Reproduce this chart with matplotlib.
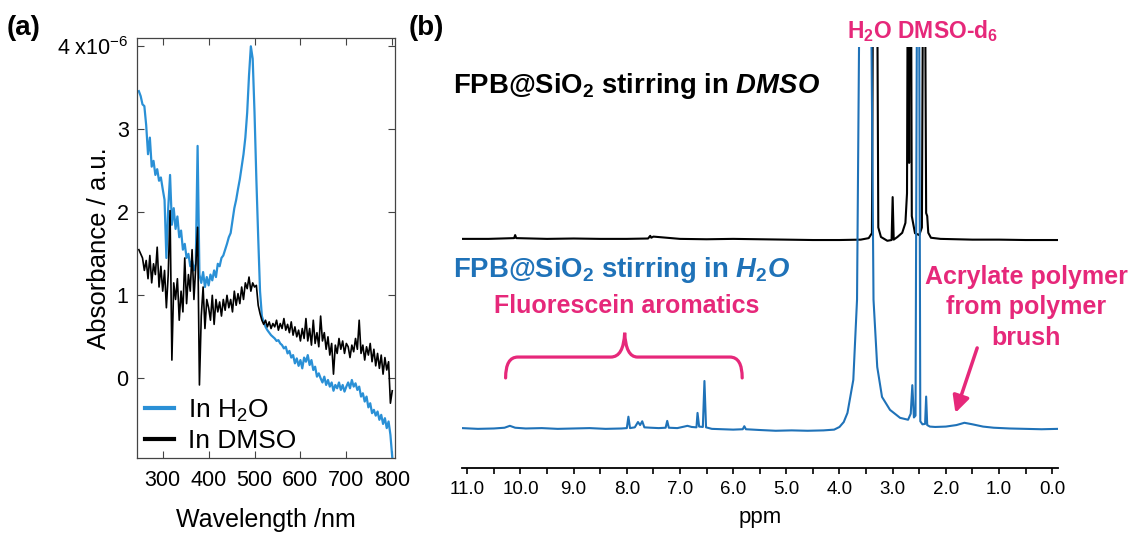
"""
Figura com dois painéis: (a) espectros UV-vis e (b) espectros de RMN 1H.
Salva em out.png.
"""

import numpy as np
import matplotlib
matplotlib.use("Agg")
import matplotlib.pyplot as plt
from matplotlib.path import Path
from matplotlib.patches import PathPatch

plt.rcParams["font.family"] = ["Liberation Sans", "DejaVu Sans"]
plt.rcParams["mathtext.fontset"] = "custom"
plt.rcParams["mathtext.rm"] = "Liberation Sans:bold"
plt.rcParams["mathtext.it"] = "Liberation Sans:italic:bold"
plt.rcParams["mathtext.bf"] = "Liberation Sans:bold"

# ---- (a) UV-vis: absorbância (x1e-6) a cada 4 nm, de 248 a 800 nm ----
comprimento = np.arange(248, 801, 4)
abs_h2o = [
    3.46, 3.40, 3.30, 3.28, 3.05, 2.70, 2.90, 2.55, 2.62, 2.45,
    2.52, 2.38, 2.42, 2.28, 2.15, 1.45, 2.05, 2.45, 1.85, 2.05,
    1.80, 1.95, 1.70, 1.78, 1.55, 1.62, 1.45, 1.50, 1.35, 1.42,
    1.30, 1.38, 2.80, 1.25, 1.15, 1.28, 1.10, 1.22, 1.12, 1.25,
    1.18, 1.30, 1.22, 1.38, 1.35, 1.45, 1.48, 1.55, 1.62, 1.70,
    1.75, 1.90, 2.05, 2.15, 2.28, 2.40, 2.55, 2.70, 2.90, 3.20,
    3.65, 4.00, 3.85, 3.20, 2.40, 1.70, 1.05, 0.75, 0.68, 0.62,
    0.58, 0.55, 0.52, 0.50, 0.48, 0.45, 0.46, 0.42, 0.40, 0.36,
    0.38, 0.30, 0.33, 0.25, 0.28, 0.18, 0.24, 0.15, 0.22, 0.12,
    0.25, 0.20, 0.28, 0.16, 0.22, 0.10, 0.14, 0.02, 0.06, 0.00,
    -0.05, 0.02, -0.08, -0.02, -0.10, -0.05, -0.15, -0.08, -0.12, -0.05,
    -0.14, -0.08, -0.16, -0.10, -0.05, -0.12, -0.02, -0.10, -0.06, -0.14,
    -0.10, -0.22, -0.18, -0.28, -0.22, -0.35, -0.30, -0.42, -0.38, -0.45,
    -0.40, -0.50, -0.44, -0.55, -0.48, -0.60, -0.52, -0.68, -0.95,
]
abs_dmso = [
    1.55, 1.50, 1.45, 1.30, 1.42, 1.20, 1.48, 1.15, 1.38, 1.25,
    1.58, 1.10, 1.35, 1.05, 1.30, 0.85, 1.25, 2.02, 0.22, 1.15,
    0.95, 1.20, 0.70, 1.05, 0.80, 1.45, 0.90, 1.25, 1.05, 1.55,
    0.95, 1.35, 1.82, -0.08, 0.75, 1.10, 0.60, 0.95, 0.85, 0.70,
    1.00, 0.65, 0.95, 0.80, 0.92, 0.75, 0.95, 0.82, 1.00, 0.85,
    0.95, 0.80, 1.05, 0.88, 1.02, 0.90, 1.10, 0.95, 1.15, 1.08,
    1.22, 1.05, 1.15, 1.10, 1.12, 0.88, 0.78, 0.70, 0.65, 0.70,
    0.62, 0.68, 0.60, 0.66, 0.62, 0.70, 0.58, 0.66, 0.60, 0.72,
    0.58, 0.65, 0.55, 0.68, 0.52, 0.62, 0.50, 0.58, 0.45, 0.60,
    0.48, 0.72, 0.45, 0.60, 0.40, 0.70, 0.42, 0.55, 0.38, 0.75,
    0.45, 0.55, 0.35, 0.50, 0.28, 0.42, 0.05, 0.40, 0.30, 0.48,
    0.35, 0.45, 0.30, 0.42, 0.38, 0.25, 0.40, 0.32, 0.48, 0.35,
    0.70, 0.30, 0.40, 0.22, 0.38, 0.28, 0.42, 0.20, 0.35, 0.15,
    0.30, 0.12, 0.28, 0.05, 0.25, 0.10, 0.20, -0.30, -0.15,
]

# ---- (b) RMN: deslocamento (ppm) e intensidade relativa à linha de base ----
ppm_h2o = [
    11.10, 10.80, 10.50, 10.30, 10.20, 10.10, 9.90, 9.60, 9.30, 9.00,
    8.70, 8.40, 8.10, 8.00, 7.97, 7.94, 7.85, 7.79, 7.75, 7.71,
    7.67, 7.55, 7.40, 7.27, 7.24, 7.21, 7.05, 6.92, 6.86, 6.78,
    6.69, 6.67, 6.64, 6.57, 6.54, 6.51, 6.40, 6.20, 6.00, 5.82,
    5.79, 5.76, 5.50, 5.20, 4.90, 4.60, 4.30, 4.10, 4.00, 3.92,
    3.85, 3.74, 3.67, 3.63, 3.52, 3.40, 3.36, 3.29, 3.20, 3.05,
    2.86, 2.71, 2.66, 2.63, 2.60, 2.57, 2.545, 2.52, 2.50, 2.48,
    2.44, 2.39, 2.37, 2.35, 2.30, 2.20, 2.00, 1.80, 1.65, 1.50,
    1.30, 1.10, 0.80, 0.50, 0.20, -0.11,
]
int_h2o = [
    0.02, 0.00, 0.01, 0.03, 0.08, 0.03, 0.01, 0.02, 0.00, 0.01,
    0.02, 0.00, 0.01, 0.02, 0.32, 0.02, 0.04, 0.18, 0.10, 0.20,
    0.04, 0.03, 0.02, 0.03, 0.21, 0.03, 0.02, 0.06, 0.08, 0.05,
    0.04, 0.42, 0.06, 0.05, 1.26, 0.04, 0.00, -0.01, -0.02, -0.01,
    0.07, -0.01, -0.03, -0.05, -0.04, -0.05, -0.04, -0.02, 0.05, 0.18,
    0.42, 1.29, 3.40, 10.5, 14.0, 10.5, 3.40, 1.63, 0.84, 0.50,
    0.29, 0.24, 0.40, 1.15, 0.30, 0.35, 10.5, 14.0, 10.5, 0.20,
    0.12, 0.13, 0.85, 0.10, 0.06, 0.05, 0.06, 0.10, 0.16, 0.12,
    0.06, 0.03, 0.01, 0.00, -0.01, 0.00,
]
ppm_dmso = [
    11.10, 10.60, 10.12, 10.10, 10.08, 9.50, 9.00, 8.50, 8.00, 7.60,
    7.56, 7.54, 7.50, 7.00, 6.50, 6.00, 5.50, 5.00, 4.50, 4.00,
    3.60, 3.45, 3.39, 3.36, 3.33, 3.30, 3.27, 3.22, 3.10, 3.02,
    3.00, 2.98, 2.91, 2.82, 2.76, 2.73, 2.71, 2.69, 2.68, 2.66,
    2.64, 2.58, 2.50, 2.45, 2.42, 2.40, 2.37, 2.35, 2.33, 2.28,
    2.10, 1.50, 1.00, 0.50, -0.11,
]
int_dmso = [
    0.00, 0.00, 0.02, 0.10, 0.02, 0.00, 0.01, 0.00, 0.00, 0.01,
    0.08, 0.03, 0.06, 0.00, -0.01, 0.00, -0.01, -0.02, -0.03, -0.03,
    -0.02, 0.02, 0.15, 10.0, 12.0, 10.0, 0.30, 0.05, -0.05, -0.03,
    1.10, -0.02, 0.05, 0.16, 0.42, 1.20, 10.0, 2.00, 10.0, 10.0,
    0.60, 0.15, 0.10, 0.30, 10.0, 10.0, 0.68, 0.60, 0.16, 0.03,
    0.00, -0.02, -0.02, -0.03, -0.03,
]

AZUL_A = "#2a90d6"
AZUL_B = "#1f72b8"
ROSA = "#e6287a"

W, H = 1130, 535


def px(x, y):
    # pixel da imagem -> fração da figura
    return x / W, 1 - y / H


def main():
    fig = plt.figure(figsize=(W / 100, H / 100), dpi=100)

    # ---------------- painel (a) ----------------
    ax1 = fig.add_axes([137 / W, 1 - 458 / H, 258 / W, 420 / H])
    ax1.plot(comprimento, abs_h2o, color=AZUL_A, lw=1.6, label=r"In H$\mathregular{_2}$O")
    ax1.plot(comprimento, abs_dmso, color="black", lw=1.2, label="In DMSO")
    ax1.set_xlim(244, 806)
    ax1.set_ylim(-0.96, 4.1)
    ax1.set_xticks([300, 400, 500, 600, 700, 800])
    ax1.set_yticks([0, 1, 2, 3, 4])
    ax1.set_yticklabels(["0", "1", "2", "3", r"4 x10$\mathregular{^{-6}}$"])
    ax1.tick_params(direction="in", top=True, right=True, length=5,
                    labelsize=15.5, color="#444444")
    ax1.tick_params(axis="x", pad=9)
    ax1.tick_params(axis="y", pad=6)
    for s in ax1.spines.values():
        s.set_color("#444444")
        s.set_linewidth(0.9)
    ax1.set_xlabel("Wavelength /nm", fontsize=18)
    ax1.set_ylabel("Absorbance / a.u.", fontsize=18.5)
    ax1.yaxis.set_label_coords(-0.10, 0.5)
    ax1.xaxis.set_label_coords(0.5, -0.12)
    leg = ax1.legend(loc="lower left", bbox_to_anchor=(0.03, 0.012),
                     frameon=False, fontsize=19, handlelength=1.1,
                     handletextpad=0.55, labelspacing=0.2,
                     borderaxespad=0, borderpad=0)
    for linha in leg.get_lines():
        linha.set_linewidth(3)

    # ---------------- painel (b) ----------------
    ax2 = fig.add_axes([462 / W, 1 - 468 / H, 596 / W, 421 / H])
    ax2.plot(ppm_dmso, np.array(int_dmso) + 5.0, color="black", lw=1.5)
    ax2.plot(ppm_h2o, int_h2o, color=AZUL_B, lw=1.5)
    ax2.set_xlim(11.1, -0.11)
    ax2.set_ylim(-1.03, 10.05)
    for lado in ["top", "left", "right"]:
        ax2.spines[lado].set_visible(False)
    ax2.spines["bottom"].set_linewidth(1.3)
    ax2.set_yticks([])
    ax2.set_xticks(np.arange(0, 11.01, 1.0))
    ax2.set_xticklabels([f"{v:.1f}" for v in np.arange(0, 11.01, 1.0)])
    ax2.set_xticks(np.arange(0.5, 11.0, 1.0), minor=True)
    ax2.tick_params(axis="x", which="both", direction="out", length=4,
                    width=1.2, labelsize=13.5, pad=5)
    ax2.set_xlabel("ppm", fontsize=16, labelpad=7)

    # chave sobre os aromáticos
    verts = [(10.28, 1.34), (10.28, 1.89), (10.05, 1.89), (8.30, 1.89),
             (8.06, 1.89), (8.04, 2.53), (8.02, 1.89), (7.80, 1.89),
             (6.06, 1.89), (5.83, 1.89), (5.83, 1.34)]
    codes = [Path.MOVETO, Path.CURVE3, Path.CURVE3, Path.LINETO,
             Path.CURVE3, Path.CURVE3, Path.CURVE3, Path.CURVE3,
             Path.LINETO, Path.CURVE3, Path.CURVE3]
    ax2.add_patch(PathPatch(Path(verts, codes), fill=False, edgecolor=ROSA,
                            lw=2.3, clip_on=False, capstyle="round"))
    ax2.annotate("", xy=(1.82, 0.42), xytext=(1.41, 2.13),
                 arrowprops=dict(arrowstyle="-|>", color=ROSA, lw=2.5,
                                 mutation_scale=25, shrinkA=0, shrinkB=0),
                 annotation_clip=False)

    # textos
    fig.text(*px(7, 28), "(a)", fontsize=20, fontweight="bold", va="center")
    fig.text(*px(409, 28), "(b)", fontsize=20, fontweight="bold", va="center")
    fig.text(*px(847, 38), r"H$_2$O DMSO-d$_6$", color=ROSA, fontsize=16.5,
             fontweight="bold", va="baseline")
    fig.text(*px(453, 93), r"FPB@SiO$_2$ stirring in $DMSO$", color="black",
             fontsize=19.8, fontweight="bold", va="baseline")
    fig.text(*px(453, 277), r"FPB@SiO$_2$ stirring in $H_2O$", color=AZUL_B,
             fontsize=19.8, fontweight="bold", va="baseline")
    fig.text(*px(627, 313), "Fluorescein aromatics", color=ROSA, fontsize=18,
             fontweight="bold", ha="center", va="baseline")
    fig.text(*px(1026, 345), "Acrylate polymer\nfrom polymer\nbrush",
             color=ROSA, fontsize=18, fontweight="bold", ha="center",
             va="baseline", multialignment="center", linespacing=1.35)

    fig.savefig("out.png", dpi=100)


if __name__ == "__main__":
    main()
